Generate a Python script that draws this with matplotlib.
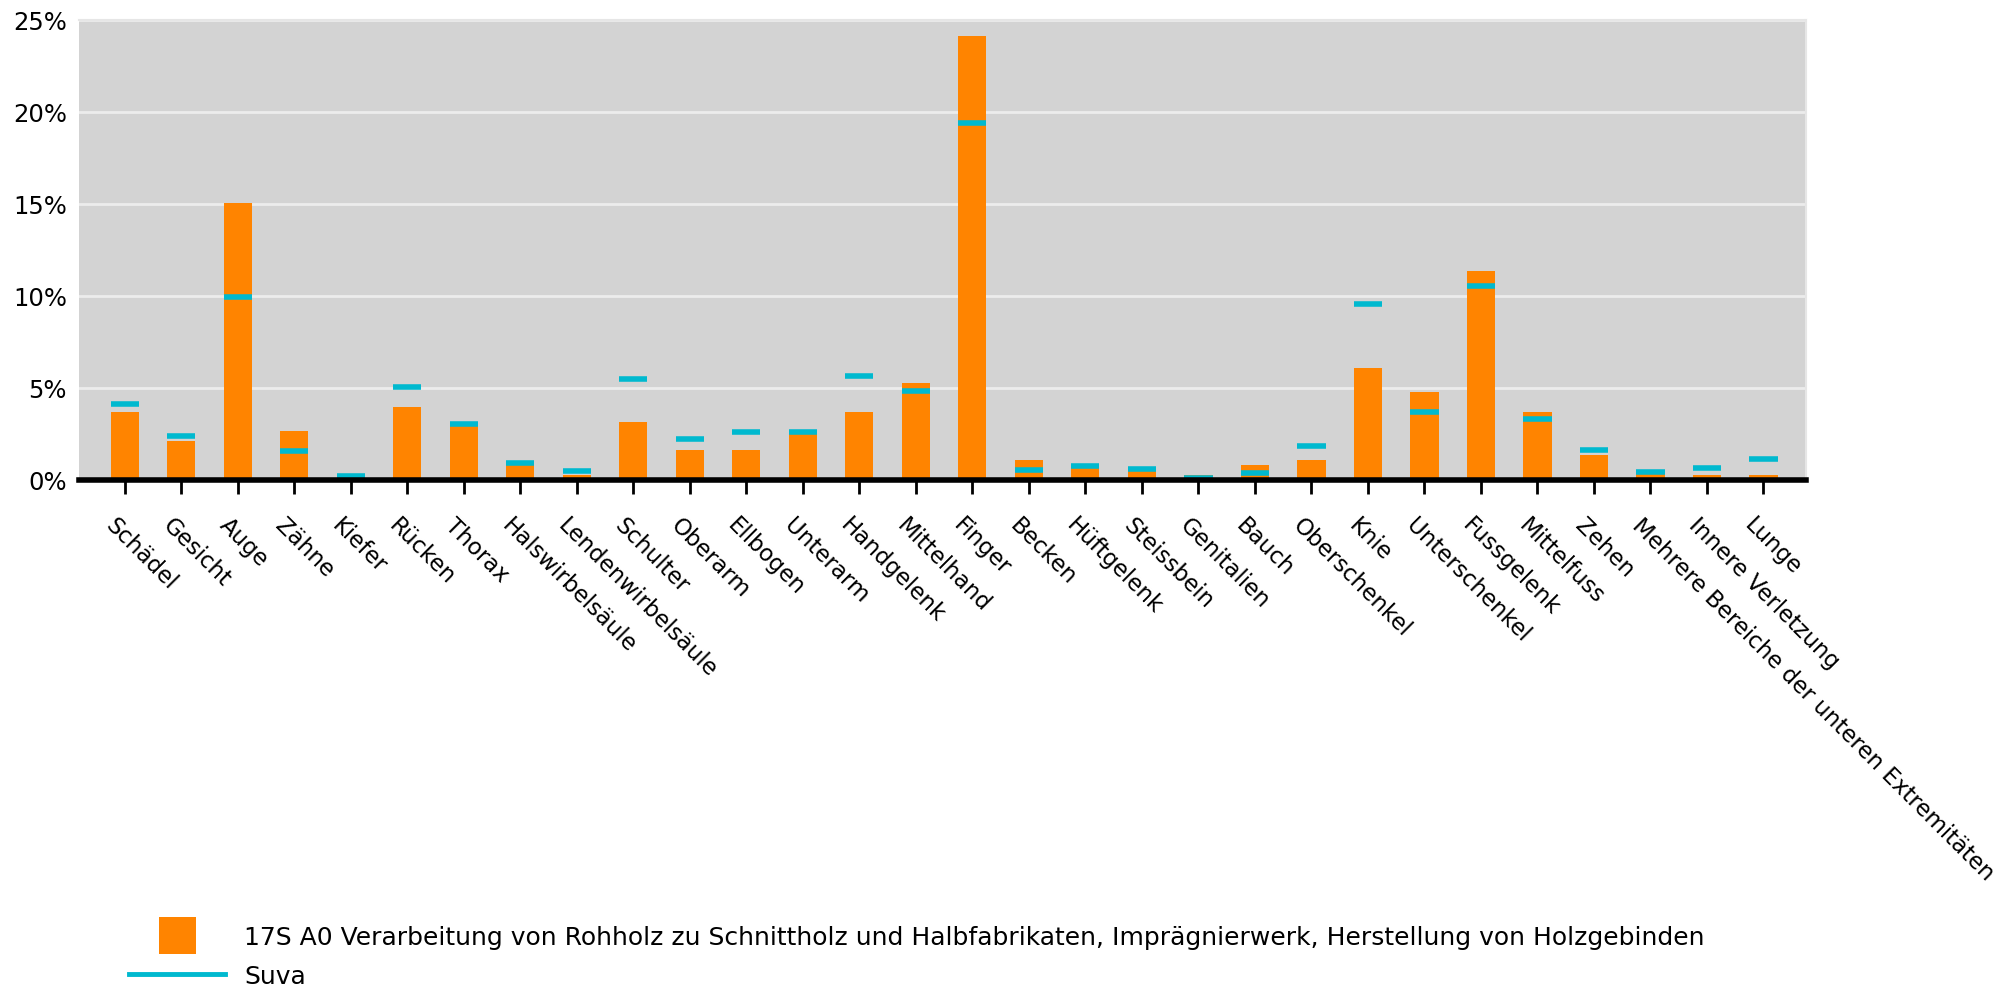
import matplotlib.pyplot as plt
import numpy as np
from matplotlib.lines import Line2D
from matplotlib.patches import Patch, Rectangle
from matplotlib.legend_handler import HandlerPatch
from matplotlib.ticker import FuncFormatter
from matplotlib.transforms import ScaledTranslation

plt.rcParams['font.family'] = ['DejaVu Sans']

#%%
# Anteil der Verletzungen nach Körperteil (in %)
categories = ['Schädel', 'Gesicht', 'Auge', 'Zähne', 'Kiefer', 'Rücken', 'Thorax',
              'Halswirbelsäule', 'Lendenwirbelsäule', 'Schulter', 'Oberarm', 'Ellbogen',
              'Unterarm', 'Handgelenk', 'Mittelhand', 'Finger', 'Becken', 'Hüftgelenk',
              'Steissbein', 'Genitalien', 'Bauch', 'Oberschenkel', 'Knie', 'Unterschenkel',
              'Fussgelenk', 'Mittelfuss', 'Zehen',
              'Mehrere Bereiche der unteren Extremitäten', 'Innere Verletzung', 'Lunge']
branche = [3.7, 2.1, 15.05, 2.65, 0.05, 3.95, 3.15, 0.8, 0.25, 3.15, 1.6, 1.6,
           2.5, 3.7, 5.25, 24.1, 1.05, 0.8, 0.7, 0.25, 0.8, 1.05, 6.05, 4.75,
           11.35, 3.7, 1.35, 0.5, 0.25, 0.25]
suva = [4.1, 2.4, 9.95, 1.55, 0.2, 5.05, 3.05, 0.9, 0.47, 5.45, 2.2, 2.6,
        2.57, 5.65, 4.8, 19.4, 0.5, 0.72, 0.6, 0.1, 0.35, 1.85, 9.55, 3.7,
        10.5, 3.3, 1.6, 0.4, 0.62, 1.13]
label_branche = ('17S A0 Verarbeitung von Rohholz zu Schnittholz und Halbfabrikaten, '
                 'Imprägnierwerk, Herstellung von Holzgebinden')
label_suva = 'Suva'

orange = '#ff8400'
cyan = '#00b9cf'

x = np.arange(len(categories))
width = 0.5

fig = plt.figure(figsize=(20.11, 9.87), dpi=100)
ax = fig.add_axes([0.0395, 0.513, 0.8585, 0.466])
ax.set_facecolor('#d3d3d3')

ax.bar(x, branche, width=width, color=orange, zorder=2)
ax.hlines(suva, x - width / 2, x + width / 2, colors=cyan, linewidth=4, zorder=3)

ax.set_xlim(-0.8, len(categories) - 0.25)
ax.set_ylim(0, 25)
ax.set_yticks(np.arange(0, 26, 5))
ax.yaxis.set_major_formatter(FuncFormatter(lambda v, p: '{:.0f}%'.format(v)))
ax.grid(axis='y', color='#ececec', linewidth=2, zorder=1)
ax.set_axisbelow(True)

for side in ['top', 'right']:
    ax.spines[side].set_color('#e6e6e6')
    ax.spines[side].set_linewidth(1.5)
ax.spines['left'].set_visible(False)
ax.spines['bottom'].set_linewidth(4)
ax.spines['bottom'].set_color('black')
ax.spines['bottom'].set_zorder(4)

ax.tick_params(axis='y', length=0, labelsize=17.5, pad=9)
ax.tick_params(axis='x', length=10, width=2, color='black', labelsize=16.5, pad=14)
ax.set_xticks(x)
ax.set_xticklabels(categories, rotation=-45, ha='left', va='top',
                   rotation_mode='anchor')
shift = ScaledTranslation(-7 / 100, 0, fig.dpi_scale_trans)
for lbl in ax.get_xticklabels():
    lbl.set_transform(lbl.get_transform() + shift)


class SquareHandler(HandlerPatch):
    def create_artists(self, legend, orig_handle, xdescent, ydescent,
                       width, height, fontsize, trans):
        side = height * 2.1
        r = Rectangle((width / 2 - side / 2 - xdescent, height / 2 - side / 2 - ydescent),
                      side, side, facecolor=orig_handle.get_facecolor(),
                      edgecolor='none', transform=trans)
        return [r]


handles = [Patch(facecolor=orange), Line2D([], [], color=cyan, linewidth=3.5)]
leg = fig.legend(handles, [label_branche, label_suva], loc='lower left',
                 bbox_to_anchor=(0.053, -0.025), frameon=False, fontsize=18,
                 handlelength=3.85, handletextpad=0.75, labelspacing=0.6,
                 handler_map={Patch: SquareHandler()})

fig.savefig('out.png', dpi=100, facecolor='w')
